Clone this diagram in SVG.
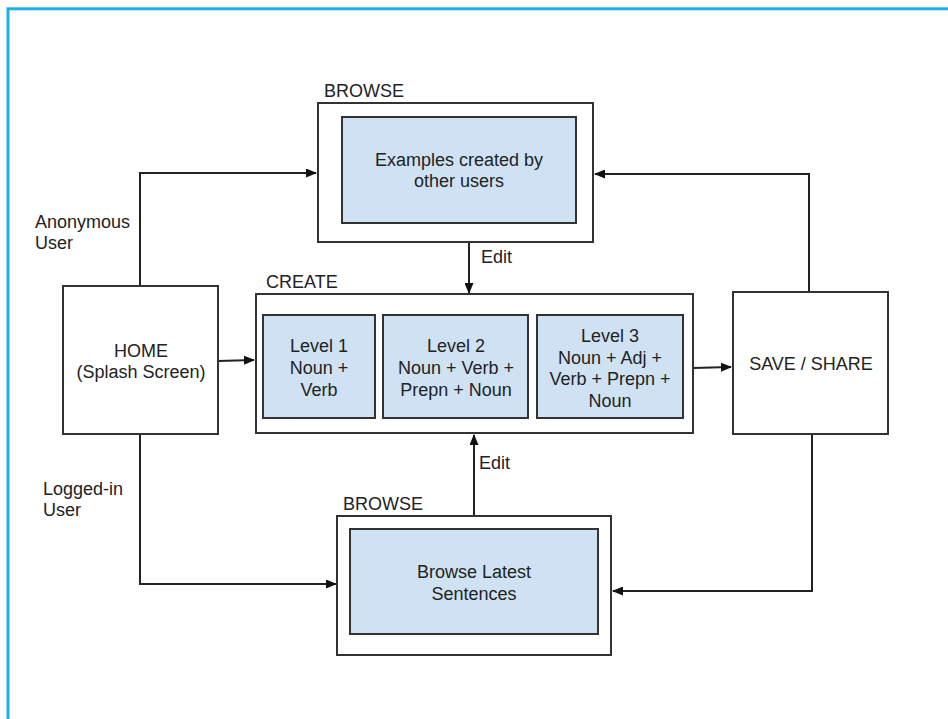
<svg xmlns="http://www.w3.org/2000/svg" width="948" height="719" viewBox="0 0 948 719">
<defs>
<marker id="arr" markerWidth="11" markerHeight="9" refX="10" refY="4.5" orient="auto" markerUnits="userSpaceOnUse">
<path d="M0,0 L11,4.5 L0,9 z" fill="#111"/>
</marker>
<style>
text{font-family:"Liberation Sans",Arial,sans-serif;font-size:18px;fill:#222}
.c{text-anchor:middle}
.box{fill:#fff;stroke:#333;stroke-width:2}
.inner{fill:#cfe2f3;stroke:#333;stroke-width:2}
.ln{fill:none;stroke:#222;stroke-width:2}
</style>
</defs>
<rect x="0" y="0" width="948" height="719" fill="#fff"/>
<rect x="8" y="8.8" width="1000" height="800" fill="none" stroke="#1bb1e7" stroke-width="3"/>

<g id="connectors">
<polyline class="ln" points="140,286 140,173 316,173" marker-end="url(#arr)"/>
<polyline class="ln" points="809,292 809,174 595,174" marker-end="url(#arr)"/>
<line class="ln" x1="469" y1="242" x2="469" y2="293" marker-end="url(#arr)"/>
<line class="ln" x1="218" y1="361" x2="254" y2="360" marker-end="url(#arr)"/>
<line class="ln" x1="693" y1="368" x2="731" y2="367" marker-end="url(#arr)"/>
<polyline class="ln" points="140,434 140,584 336,584" marker-end="url(#arr)"/>
<line class="ln" x1="474" y1="516" x2="474" y2="435" marker-end="url(#arr)"/>
<polyline class="ln" points="812,434 812,591 613,591" marker-end="url(#arr)"/>
<text x="35" y="228">Anonymous</text>
<text x="35" y="249">User</text>
<text x="43" y="495">Logged-in</text>
<text x="43" y="516">User</text>
<text x="481" y="263">Edit</text>
<text x="479" y="469">Edit</text>
</g>

<g id="browse-top">
<text x="324" y="97">BROWSE</text>
<rect class="box" x="318" y="103" width="275" height="139"/>
<rect class="inner" x="342" y="117" width="234" height="106"/>
<text class="c" x="459" y="166">Examples created by</text>
<text class="c" x="459" y="187">other users</text>
</g>

<g id="home">
<rect class="box" x="63" y="286" width="155" height="148"/>
<text class="c" x="141" y="357">HOME</text>
<text class="c" x="141" y="378">(Splash Screen)</text>
</g>

<g id="create">
<text x="266" y="288">CREATE</text>
<rect class="box" x="256" y="294" width="437" height="139"/>
</g>

<g id="level1">
<rect class="inner" x="263" y="315" width="112" height="103"/>
<text class="c" x="319" y="352">Level 1</text>
<text class="c" x="319" y="374">Noun +</text>
<text class="c" x="319" y="396">Verb</text>
</g>

<g id="level2">
<rect class="inner" x="383" y="315" width="145" height="103"/>
<text class="c" x="456" y="352">Level 2</text>
<text class="c" x="456" y="374">Noun + Verb +</text>
<text class="c" x="456" y="396">Prepn + Noun</text>
</g>

<g id="level3">
<rect class="inner" x="537" y="315" width="146" height="103"/>
<text class="c" x="610" y="342">Level 3</text>
<text class="c" x="610" y="363.5">Noun + Adj +</text>
<text class="c" x="610" y="385">Verb + Prepn +</text>
<text class="c" x="610" y="406.5">Noun</text>
</g>

<g id="save-share">
<rect class="box" x="733" y="292" width="155" height="142"/>
<text class="c" x="811" y="370">SAVE / SHARE</text>
</g>

<g id="browse-bottom">
<text x="343" y="510">BROWSE</text>
<rect class="box" x="337" y="516" width="274" height="139"/>
<rect class="inner" x="350" y="529" width="248" height="105"/>
<text class="c" x="474" y="578">Browse Latest</text>
<text class="c" x="474" y="600">Sentences</text>
</g>
</svg>
